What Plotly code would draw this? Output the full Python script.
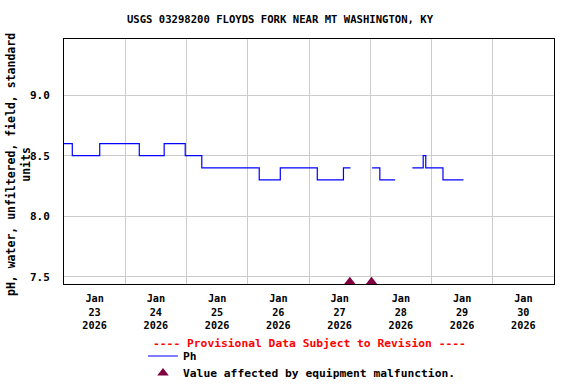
import plotly.graph_objects as go

# --- data ---
ph_times = [
    "2026-01-23 00:00", "2026-01-23 03:15", "2026-01-23 14:00", "2026-01-24 05:30",
    "2026-01-24 15:15", "2026-01-24 23:30", "2026-01-25 06:00", "2026-01-26 04:30",
    "2026-01-26 12:45", "2026-01-27 03:15", "2026-01-27 13:30", "2026-01-27 16:15",
    "2026-01-27 16:30",
    "2026-01-28 00:45", "2026-01-28 03:45", "2026-01-28 09:45",
    "2026-01-28 10:00",
    "2026-01-28 16:30", "2026-01-28 20:45", "2026-01-28 21:45", "2026-01-29 04:30",
    "2026-01-29 12:30",
]
ph_values = [
    8.6, 8.5, 8.6, 8.5,
    8.6, 8.5, 8.4, 8.3,
    8.4, 8.3, 8.4, 8.4,
    None,
    8.4, 8.3, 8.3,
    None,
    8.4, 8.5, 8.4, 8.3,
    8.3,
]
malf_times = ["2026-01-27 16:00", "2026-01-28 00:30"]
malf_values = [7.46, 7.46]

tick_days = ["2026-01-23 12:00", "2026-01-24 12:00", "2026-01-25 12:00", "2026-01-26 12:00",
             "2026-01-27 12:00", "2026-01-28 12:00", "2026-01-29 12:00", "2026-01-30 12:00"]
tick_text = ["Jan<br>23<br>2026", "Jan<br>24<br>2026", "Jan<br>25<br>2026", "Jan<br>26<br>2026",
             "Jan<br>27<br>2026", "Jan<br>28<br>2026", "Jan<br>29<br>2026", "Jan<br>30<br>2026"]
y_ticks = [7.5, 8.0, 8.5, 9.0]

FONT = "DejaVu Sans Mono"

fig = go.Figure()
fig.add_trace(go.Scatter(
    x=ph_times, y=ph_values, mode="lines", name="Ph",
    line=dict(color="#0000ff", width=1.2, shape="hv"), connectgaps=False,
    legend="legend",
))
fig.add_trace(go.Scatter(
    x=malf_times, y=malf_values, mode="markers",
    name="Value affected by equipment malfunction.",
    marker=dict(symbol="triangle-up", size=10, color="#800040"),
    cliponaxis=False, legend="legend2",
))

legend_common = dict(xref="container", yref="container", xanchor="left", yanchor="middle",
                     font=dict(family=FONT, size=11.3, weight="bold"),
                     bgcolor="rgba(0,0,0,0)")

fig.update_layout(
    width=576, height=384,
    margin=dict(l=64, r=22, t=39, b=100, autoexpand=False),
    paper_bgcolor="white", plot_bgcolor="white",
    font=dict(family=FONT, size=11, color="black", weight="bold"),
    title=dict(text="USGS 03298200 FLOYDS FORK NEAR MT WASHINGTON, KY",
               x=280 / 576, xref="container", xanchor="center",
               y=1 - 19 / 384, yref="container", yanchor="middle",
               font=dict(family=FONT, size=10.6, weight="bold")),
    showlegend=True,
    legend=dict(x=143 / 576, y=1 - 356 / 384, **legend_common),
    legend2=dict(x=143 / 576, y=1 - 373 / 384, **legend_common),
    xaxis=dict(
        range=["2026-01-23 00:00", "2026-01-31 00:00"],
        tickvals=tick_days, ticktext=tick_text, ticks="", showgrid=False,
        minor=dict(dtick=86400000, tick0="2026-01-23", showgrid=True,
                   gridcolor="#cccccc", gridwidth=1, ticks=""),
        showline=True, linecolor="black", linewidth=1, mirror=True,
        tickfont=dict(family=FONT, size=10.2, weight="bold"),
        zeroline=False, ticklabelstandoff=5,
    ),
    yaxis=dict(
        range=[7.442, 9.462], tickvals=y_ticks, tickformat=".1f",
        showgrid=True, gridcolor="#cccccc", gridwidth=1, ticks="",
        showline=True, linecolor="black", linewidth=1, mirror=True,
        tickfont=dict(family=FONT, size=11, weight="bold"),
        zeroline=False, ticklabelstandoff=11,
    ),
    annotations=[
        dict(text="---- Provisional Data Subject to Revision ----",
             x=0.5, xref="paper", y=(284 - 343) / 245, yref="paper", showarrow=False,
             font=dict(family=FONT, size=11.3, color="#ff0000", weight="bold"),
             xanchor="center", yanchor="middle"),
        dict(text="pH, water, unfiltered, field, standard<br>units",
             textangle=-90, x=0, xref="paper", xanchor="center", xshift=-46,
             y=0.5, yref="paper", yanchor="middle", yshift=-3.5, showarrow=False,
             font=dict(family=FONT, size=11.5, weight="bold")),
    ],
)

fig.write_html("out.html", config={"displayModeBar": False},
               post_script="document.body.style.margin='0px';")
